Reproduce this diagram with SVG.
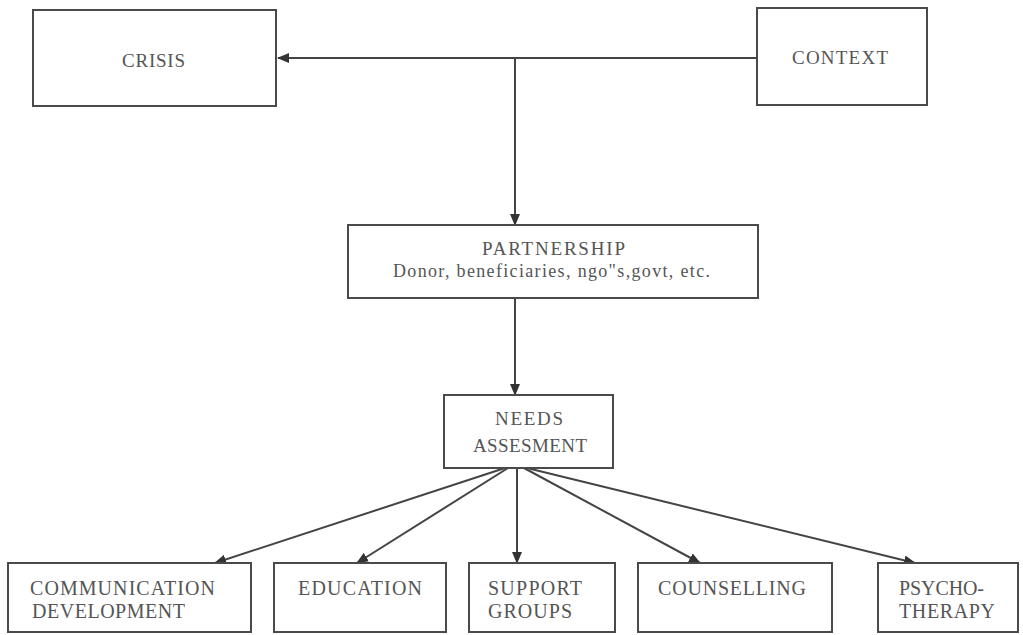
<svg xmlns="http://www.w3.org/2000/svg" width="1023" height="635" viewBox="0 0 1023 635">
<style>
.box{fill:#fff;stroke:#4a4a4a;stroke-width:2}
.t{font-family:"Liberation Serif","Times New Roman",serif;fill:#555;font-size:19px}
.b{font-size:20px}
.s{font-size:18px}
.c{fill:none;stroke:#444;stroke-width:2}
</style>
<defs>
<marker id="ah" markerUnits="userSpaceOnUse" markerWidth="12" markerHeight="10" refX="11" refY="5" orient="auto">
<path d="M0,0 L12,5 L0,10 z" fill="#333"/>
</marker>
</defs>
<rect width="1023" height="635" fill="#fff"/>
<g id="connectors">
<path class="c" d="M757,58 L515,58" />
<path class="c" d="M515,58 L278,58" marker-end="url(#ah)"/>
<path class="c" d="M515,58 L515,225" marker-end="url(#ah)"/>
<path class="c" d="M515,298 L515,395" marker-end="url(#ah)"/>
<path class="c" d="M505,468 L215,563" marker-end="url(#ah)"/>
<path class="c" d="M508,468 L357,563" marker-end="url(#ah)"/>
<path class="c" d="M517,468 L517,563" marker-end="url(#ah)"/>
<path class="c" d="M524,468 L700,563" marker-end="url(#ah)"/>
<path class="c" d="M527,468 L915,563" marker-end="url(#ah)"/>
</g>
<g id="crisis">
<rect class="box" x="33" y="10" width="243" height="96"/>
<text class="t" x="122" y="67" textLength="63" lengthAdjust="spacing">CRISIS</text>
</g>
<g id="context">
<rect class="box" x="757" y="8" width="170" height="97"/>
<text class="t" x="792" y="64" textLength="96" lengthAdjust="spacing">CONTEXT</text>
</g>
<g id="partnership">
<rect class="box" x="348" y="225" width="410" height="73"/>
<text class="t" x="482" y="255" textLength="143" lengthAdjust="spacing">PARTNERSHIP</text>
<text class="t s" x="393" y="277" textLength="317" lengthAdjust="spacing">Donor, beneficiaries, ngo"s,govt, etc.</text>
</g>
<g id="needs">
<rect class="box" x="444" y="395" width="169" height="73"/>
<text class="t" x="495" y="425" textLength="68" lengthAdjust="spacing">NEEDS</text>
<text class="t" x="473" y="452" textLength="114" lengthAdjust="spacing">ASSESMENT</text>
</g>
<g id="communication">
<rect class="box" x="8" y="563" width="243" height="69"/>
<text class="t b" x="30" y="595" textLength="185" lengthAdjust="spacing">COMMUNICATION</text>
<text class="t b" x="32" y="618" textLength="153" lengthAdjust="spacing">DEVELOPMENT</text>
</g>
<g id="education">
<rect class="box" x="274" y="563" width="172" height="69"/>
<text class="t b" x="298" y="595" textLength="124" lengthAdjust="spacing">EDUCATION</text>
</g>
<g id="support">
<rect class="box" x="469" y="563" width="146" height="69"/>
<text class="t b" x="488" y="595" textLength="94" lengthAdjust="spacing">SUPPORT</text>
<text class="t b" x="488" y="618" textLength="84" lengthAdjust="spacing">GROUPS</text>
</g>
<g id="counselling">
<rect class="box" x="638" y="563" width="194" height="69"/>
<text class="t b" x="658" y="595" textLength="148" lengthAdjust="spacing">COUNSELLING</text>
</g>
<g id="psychotherapy">
<rect class="box" x="878" y="563" width="140" height="69"/>
<text class="t b" x="899" y="595" textLength="85" lengthAdjust="spacing">PSYCHO-</text>
<text class="t b" x="899" y="618" textLength="96" lengthAdjust="spacing">THERAPY</text>
</g>
</svg>
